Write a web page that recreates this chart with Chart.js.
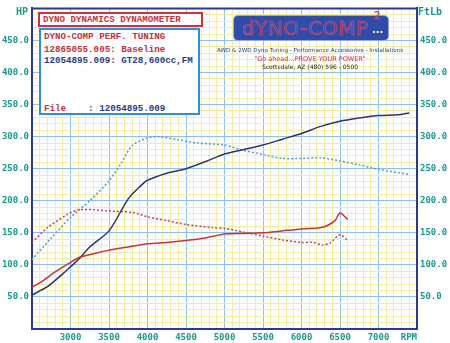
<!DOCTYPE html>
<html>
<head>
<meta charset="utf-8">
<script src="https://cdn.jsdelivr.net/npm/chart.js@4"></script>
<style>
  body { margin: 0; background: #fff; }
  #wrap { position: relative; width: 450px; height: 343px; }
  canvas { position: absolute; left: 0; top: 0; }
  .mono { font-family: "Liberation Mono", "DejaVu Sans Mono", monospace; font-weight: bold; font-size: 9.2px; white-space: pre; }
  #title { position: absolute; left: 38px; top: 12px; width: 158px; height: 11px; border: 2px solid #d0303c; background: #fff; color: #c8303c; line-height: 11px; padding-left: 3px; }
  #info { position: absolute; left: 39px; top: 28px; width: 157px; height: 83px; border: 2px solid #2f8ee0; background: #fff; }
  #info div { position: absolute; left: 3px; line-height: 10px; }
  .red { color: #c8303c; }
  .navy { color: #283a8c; }
  #logo { position: absolute; left: 234px; top: 16px; width: 154px; height: 24px; background: #2f4ca8; border-radius: 4px; box-shadow: 0 0 0 1px #9aa8d8; }
  #logo span.big { position: absolute; left: 8px; top: 0px; font-family: "DejaVu Sans", sans-serif; font-size: 20px; line-height: 24px; letter-spacing: 0.5px; color: #3553b4; -webkit-text-stroke: 0.6px #f0485a; }
  #logo span.sup { position: absolute; left: 140px; top: -6px; font-family: "DejaVu Sans", sans-serif; font-size: 10px; color: #3656b8; -webkit-text-stroke: 0.5px #f0485a; }
  #logo span.dots { position: absolute; left: 138px; top: 8px; font-family: "DejaVu Sans", sans-serif; font-size: 10px; font-weight: bold; color: #fff; }
  .sub { position: absolute; font-family: "DejaVu Sans", sans-serif; text-align: center; white-space: nowrap; }
</style>
</head>
<body>
<div id="wrap">
  <canvas id="dynoChart" width="450" height="343"></canvas>
  <div id="title" class="mono">DYNO DYNAMICS DYNAMOMETER</div>
  <div id="info" class="mono">
    <div class="red" style="top:2px">DYNO-COMP PERF. TUNING</div>
    <div class="red" style="top:15px">12865055.005: Baseline</div>
    <div class="navy" style="top:26px">12054895.009: GT28,600cc,FM</div>
    <div style="top:74px"><span class="red">File</span><span class="navy">    : 12054895.009</span></div>
  </div>
  <div id="logo"><span class="big">dYNO-COMP</span><span class="sup">2</span><span class="dots">...</span></div>
  <div class="sub" style="left:205px; top:47px; width:210px; font-size:5.6px; color:#283a8c;">AWD &amp; 2WD Dyno Tuning - Performance Accessories - Installations</div>
  <div class="sub" style="left:250px; top:55px; width:120px; font-size:6.5px; color:#d0303c;">"Go ahead...PROVE YOUR POWER"</div>
  <div class="sub" style="left:250px; top:63px; width:120px; font-size:6px; color:#222;">Scottsdale, AZ (480) 596 - 0500</div>
</div>
<script>
// Baseline run (red)
const baseHpRpm = [2500, 2650, 2800, 3000, 3120, 3290, 3500, 3750, 4000, 4250, 4500, 4750, 5000, 5250, 5500, 5750, 6000, 6240, 6330, 6435, 6500, 6600]
const baseHp = [65, 76, 89, 104, 112, 117, 123, 128, 133, 135, 138, 142, 148, 149, 150, 153, 156, 158, 161, 169, 181, 171]

const baseTqRpm = [2500, 2700, 2950, 3100, 3300, 3500, 3800, 4000, 4250, 4500, 4850, 5000, 5250, 5500, 5750, 6000, 6150, 6280, 6370, 6500, 6600]
const baseTq = [135, 158, 178, 186, 186, 184, 182, 175, 169, 163, 158, 157, 151, 145, 139, 135, 135, 131, 134, 147, 138]

// GT28 run (blue)
const gtHpRpm = [2500, 2700, 2900, 3000, 3100, 3250, 3500, 3750, 3900, 4000, 4250, 4500, 4750, 5000, 5250, 5500, 5750, 6000, 6250, 6500, 6750, 7000, 7250, 7400]
const gtHp = [53, 66, 86, 97, 108, 128, 153, 203, 222, 232, 243, 250, 261, 273, 280, 287, 296, 305, 316, 324, 329, 333, 334, 337]

const gtTqRpm = [2500, 2750, 3000, 3250, 3500, 3650, 3800, 4000, 4150, 4400, 4650, 5000, 5200, 5500, 5750, 6000, 6250, 6500, 6750, 7000, 7400]
const gtTq = [108, 142, 174, 200, 231, 257, 286, 298, 300, 295, 290, 287, 280, 272, 266, 266, 267, 262, 256, 249, 241]

const NAVY = '#2b3a8e'
const TEAL = '#1a9a88'
const tickFont = { family: 'DejaVu Sans Mono', size: 9, weight: 'bold' }

const toPoints = (xs, ys) => xs.map((x, i) => ({ x: x, y: ys[i] }))

const frame = {
    id: 'frame',
    afterDraw(chart) {
        const { ctx, chartArea: a } = chart
        ctx.save()
        ctx.strokeStyle = NAVY
        ctx.lineWidth = 2
        ctx.beginPath()
        ctx.moveTo(a.left, a.top)
        ctx.lineTo(a.right, a.top)
        ctx.stroke()
        ctx.font = 'bold 10px "DejaVu Sans Mono"'
        ctx.fillStyle = TEAL
        ctx.textBaseline = 'middle'
        ctx.textAlign = 'right'
        ctx.fillText('HP', 28, 12)
        ctx.textAlign = 'left'
        ctx.fillText('FtLb', 418, 12)
        ctx.restore()
    }
}

const ctx = document.getElementById('dynoChart').getContext('2d')
new Chart(ctx, {
    type: 'line',
    data: {
        datasets: [
            {
                label: 'Baseline HP',
                data: toPoints(baseHpRpm, baseHp),
                borderColor: '#c8343e',
                borderWidth: 1.5,
                yAxisID: 'y',
            },
            {
                label: 'GT28 HP',
                data: toPoints(gtHpRpm, gtHp),
                borderColor: '#2c3478',
                borderWidth: 1.5,
                yAxisID: 'y',
            },
            {
                label: 'Baseline Torque',
                data: toPoints(baseTqRpm, baseTq),
                borderColor: '#c04452',
                borderWidth: 1.5,
                borderDash: [2, 2],
                yAxisID: 'y2',
            },
            {
                label: 'GT28 Torque',
                data: toPoints(gtTqRpm, gtTq),
                borderColor: '#4f9fd2',
                borderWidth: 1.5,
                borderDash: [2, 2],
                yAxisID: 'y2',
            },
        ]
    },
    options: {
        responsive: false,
        animation: false,
        layout: { padding: { top: 6 } },
        elements: { point: { radius: 0 }, line: { tension: 0.25 } },
        plugins: { legend: { display: false }, tooltip: { enabled: false } },
        scales: {
            x: {
                type: 'linear',
                min: 2500,
                max: 7500,
                afterFit: (s) => { s.height = 14 },
                border: { color: NAVY, width: 2 },
                grid: {
                    color: (c) => c.tick && c.tick.value % 500 === 0 ? '#8fc3e6' : '#f4eea2',
                    lineWidth: 1,
                    drawTicks: false,
                },
                ticks: {
                    stepSize: 100,
                    autoSkip: false,
                    maxRotation: 0,
                    align: 'inner',
                    padding: 3,
                    color: TEAL,
                    font: tickFont,
                    callback: (v) => {
                        if (v === 7500) return 'RPM'
                        return v % 500 === 0 && v > 2500 ? String(v) : ''
                    },
                },
            },
            y: {
                position: 'left',
                min: 0,
                max: 500,
                afterFit: (s) => { s.width = 32 },
                border: { color: NAVY, width: 2 },
                grid: {
                    color: (c) => c.tick && c.tick.value % 50 === 0 ? '#8fc3e6' : '#f4eea2',
                    lineWidth: 1,
                    drawTicks: false,
                },
                ticks: {
                    stepSize: 10,
                    autoSkip: false,
                    padding: 3,
                    color: TEAL,
                    font: tickFont,
                    callback: (v) => v % 50 === 0 && v > 0 && v < 500 ? v.toFixed(1) : '',
                },
            },
            y2: {
                position: 'right',
                min: 0,
                max: 500,
                afterFit: (s) => { s.width = 33 },
                border: { color: NAVY, width: 2 },
                grid: { display: false, drawTicks: false },
                ticks: {
                    stepSize: 10,
                    autoSkip: false,
                    padding: 3,
                    color: TEAL,
                    font: tickFont,
                    callback: (v) => v % 50 === 0 && v > 0 && v < 500 ? v.toFixed(1) : '',
                },
            },
        },
    },
    plugins: [frame],
})
</script>
</body>
</html>
